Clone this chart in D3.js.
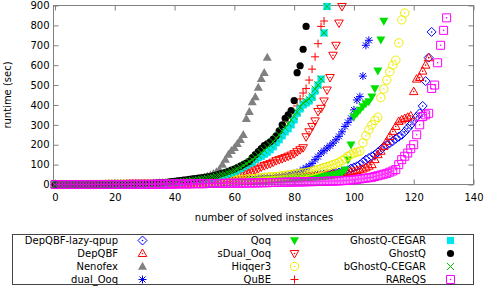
<!DOCTYPE html>
<html>
<head>
<meta charset="utf-8">
<script src="https://cdn.jsdelivr.net/npm/d3@7"></script>
<style>
    body { margin: 0; background: #fff; }
    svg text { font-family: "DejaVu Sans", sans-serif; font-size: 10px; fill: #000; }
</style>
</head>
<body>
<div id="chart"></div>
<script>

// runtime (sec) of each solved instance, sorted ascending (cactus plot)
let depqbfLazy = [0,0,0,0,0,0,0,0,0,0, 0,0,0,0,0,0,0,0,1,1, 1,1,1,1,1,2,2,2,2,2, 2,3,3,3,3,4,4,4,5,5,
    5,6,6,7,7,8,8,9,9,10, 10,11,11,12,12,13,13,14,15,16, 17,18,19,20,21,22,23,24,25,26, 27,28,29,30,31,32,33,34,35,36,
    37,38,39,40,41,42,43,44,46,48, 50,52,54,56,58,60,62,66,72,80, 86,92,100,112,125,133,142,150,162,175,
    190,198,208,218,230,240,250,265,283,300, 320,340,358,395,520,638,767];
let depqbf = [0,0,0,0,0,0,0,0,0,0, 0,0,0,0,0,0,0,1,1,1, 1,1,1,1,2,2,2,2,2,3, 3,3,3,4,4,4,5,5,5,6,
    6,6,7,7,8,8,9,9,10,10, 11,11,12,12,13,13,14,14,15,15, 16,16,17,17,18,18,19,20,21,22, 23,24,25,26,27,28,29,30,31,32,
    33,34,35,36,37,38,39,40,41,42, 44,46,48,50,52,54,56,58,61,64, 67,70,74,78,84,92,100,125,150,167,
    192,217,242,267,292,317,325,332,338,345, 467,530,538,570,600,637];
let nenofex = [0,0,0,0,0,0,0,0,0,0, 0,0,1,1,1,1,1,1,1,2, 2,2,2,2,3,3,3,3,4,4, 4,5,5,6,6,7,7,8,9,10,
    11,12,13,15,17,19,21,24,27,31, 35,40,46,54,62,75,100,125,150,170, 185,205,225,250,330,365,415,440,488,532,
    562,638];
let dualOoq = [0,0,0,0,0,0,0,0,0,0, 0,0,0,0,0,0,1,1,1,1, 1,1,2,2,2,2,2,3,3,3, 3,4,4,4,5,5,5,6,6,7,
    7,8,8,9,9,10,10,11,12,13, 14,15,16,17,18,19,20,21,22,23, 24,25,26,27,28,29,30,31,32,33, 34,35,36,37,38,40,42,45,48,52,
    55,58,65,75,84,92,105,125,140,158, 170,183,195,208,225,242,265,292,312,333, 375,425,442,545,700,725];
let qoq = [0,0,0,0,0,0,0,0,0,0, 0,0,0,0,0,1,1,1,1,1, 1,2,2,2,2,2,3,3,3,3, 4,4,4,5,5,5,6,6,7,7,
    8,8,9,9,10,10,11,11,12,12, 13,13,14,14,15,15,16,16,17,17, 18,18,19,19,20,20,21,21,22,22, 23,23,24,24,25,25,26,27,28,29,
    30,31,32,33,34,35,36,37,38,40, 42,44,46,48,50,55,60,75,125,200, 342,358,375,392,408,417,442,483,572,728,822];
let sdualOoq = [0,0,0,0,0,0,0,0,0,0, 0,0,0,0,1,1,1,1,1,1, 2,2,2,2,2,3,3,3,3,4, 4,4,5,5,5,6,6,7,7,8,
    8,9,9,10,11,12,13,14,15,16, 17,18,20,22,24,26,28,31,34,37, 40,44,48,52,56,62,68,74,80,88, 95,100,105,112,120,125,130,136,142,148,
    155,165,175,185,240,265,292,320,367,383, 420,475,538,650,700,812,895];
let hiqqer3 = [0,0,0,0,0,0,0,0,0,0, 0,0,0,0,0,0,0,1,1,1, 1,1,1,2,2,2,2,2,3,3, 3,3,4,4,4,5,5,5,6,6,
    7,7,8,8,9,9,10,10,11,12, 13,14,15,16,17,18,19,20,21,22, 23,24,25,26,27,28,29,30,32,34, 36,37,38,39,40,42,44,46,48,50,
    52,54,56,58,61,64,67,71,75,80, 85,90,95,100,105,112,120,130,142,150, 158,163,167,210,245,275,300,322,338,437,
    480,525,567,600,625,712,828,862];
let qube = [0,0,0,0,0,0,0,0,0,0, 0,0,0,0,0,1,1,1,1,1, 1,2,2,2,2,2,3,3,3,3, 4,4,4,5,5,6,6,7,7,8,
    9,10,11,12,13,14,15,17,19,21, 23,25,28,31,34,38,42,47,52,58, 65,72,80,92,105,118,130,142,155,168, 182,195,208,222,236,250,270,290,315,340,
    360,395,430,460,483,525,580,642,708,795,822];
let ghostqCegar = [0,0,0,0,0,0,0,0,0,0, 0,0,0,0,0,1,1,1,1,1, 1,2,2,2,2,2,3,3,3,3, 4,4,5,5,6,6,7,8,9,10,
    11,12,13,14,15,17,19,21,23,25, 27,29,32,35,38,42,46,50,55,60, 65,72,80,88,97,105,112,125,135,142, 152,162,175,190,210,225,245,265,280,300,
    325,358,380,400,410,420,438,470,500,530,762,895];
let ghostq = [0,0,0,0,0,0,0,0,0,0, 0,0,0,1,1,1,1,1,1,1, 2,2,2,2,2,3,3,3,3,4, 4,5,5,6,7,8,9,10,12,14,
    16,18,20,22,24,26,28,30,32,34, 36,38,40,43,47,52,56,61,66,72, 78,85,92,100,108,117,135,150,165,180, 195,205,215,228,245,270,300,333,350,372,
    422,562,597,680,795];
let bghostqCegar = [0,0,0,0,0,0,0,0,0,0, 0,0,0,0,1,1,1,1,1,1, 2,2,2,2,2,3,3,3,3,4, 4,4,5,5,6,7,7,8,9,10,
    11,12,13,15,16,18,20,22,24,26, 28,31,34,37,40,44,48,53,58,64, 70,78,86,95,105,115,125,135,148,160, 172,185,200,215,232,250,268,285,305,325,
    342,365,390,410,420,430,445,480,500,530,762,895];
let rareqs = [0,0,0,0,0,0,0,0,0,0, 0,0,0,0,0,0,0,0,0,0, 0,0,0,0,0,1,1,1,1,1, 1,1,1,1,2,2,2,2,2,2,
    2,3,3,3,3,3,4,4,4,4, 4,5,5,5,5,5,6,6,6,6, 6,7,7,7,7,8,8,8,8,9, 9,9,10,10,10,11,11,11,12,12,
    12,13,13,13,14,14,14,15,15,15, 16,16,17,17,18,18,19,20,21,22, 24,26,28,30,32,34,36,40,44,48,
    52,56,62,68,75,100,125,142,158,180, 200,250,300,342,350,358,483,500,612,700,775,838];

let seriesNames = ["DepQBF-lazy-qpup", "DepQBF", "Nenofex", "dual_Ooq", "Qoq", "sDual_Ooq",
    "Hiqqer3", "QuBE", "GhostQ-CEGAR", "GhostQ", "bGhostQ-CEGAR", "RAReQS"];
let seriesValues = [depqbfLazy, depqbf, nenofex, dualOoq, qoq, sdualOoq,
    hiqqer3, qube, ghostqCegar, ghostq, bghostqCegar, rareqs];
let seriesShapes = ["diamondDot", "triUpDot", "triUp", "star", "triDown", "triDownDot",
    "circleDot", "plus", "square", "circle", "cross", "squareDot"];
let seriesColors = ["#0000ff", "#ff0000", "#808080", "#0000ff", "#00e000", "#ff0000",
    "#eeee00", "#ff0000", "#00e5ee", "#000000", "#00c000", "#ff00ff"];

let xTicks = [0, 20, 40, 60, 80, 100, 120, 140];
let yTicks = [0, 100, 200, 300, 400, 500, 600, 700, 800, 900];

// draws one gnuplot style point into every g of the selection
function addShape(g, shape, color){
    let dot = function(){
        g.append('circle').attr('r', 0.8).style('fill', color);
    };
    let outline = function(d){
        return g.append('path').attr('d', d)
            .style('fill', 'none').style('stroke', color).style('stroke-width', 1);
    };
    let solid = function(d){
        return g.append('path').attr('d', d).style('fill', color).style('stroke', 'none');
    };
    switch(shape){
        case 'diamondDot': outline('M0,-4.5L4.5,0L0,4.5L-4.5,0Z'); dot(); break;
        case 'triUpDot': outline('M0,-4.5L4.3,3L-4.3,3Z'); dot(); break;
        case 'triUp': solid('M0,-4.8L4.5,3.2L-4.5,3.2Z'); break;
        case 'star': outline('M-4,0H4M0,-4V4M-3,-3L3,3M-3,3L3,-3'); break;
        case 'triDown': solid('M-4.5,-3.2L4.5,-3.2L0,4.8Z'); break;
        case 'triDownDot': outline('M-4.3,-3L4.3,-3L0,4.5Z'); dot(); break;
        case 'circleDot':
            g.append('circle').attr('r', 4.2)
                .style('fill', 'none').style('stroke', color).style('stroke-width', 1);
            dot(); break;
        case 'plus': outline('M-4,0H4M0,-4V4'); break;
        case 'square': solid('M-3.6,-3.6H3.6V3.6H-3.6Z'); break;
        case 'circle': g.append('circle').attr('r', 3.6).style('fill', color); break;
        case 'cross': outline('M-3.5,-3.5L3.5,3.5M-3.5,3.5L3.5,-3.5'); break;
        case 'squareDot': outline('M-4,-4H4V4H-4Z'); dot(); break;
    }
}

let width = 486;
let height = 286;

let svg = d3.select('#chart').append('svg')
    .attr('width', width)
    .attr('height', height);

let x = d3.scaleLinear().domain([-0.5, 140]).range([53.5, 473.5]);
let y = d3.scaleLinear().domain([0, 900]).range([184.5, 5.5]);

let borderColor = '#808080';

// ticks point inwards on all four sides, labels only bottom and left
let xAxis = d3.axisBottom(x).tickValues(xTicks).tickSize(-5).tickPadding(9);
let yAxis = d3.axisLeft(y).tickValues(yTicks).tickSize(-5).tickPadding(4);
let xTop = d3.axisTop(x).tickValues(xTicks).tickSize(-5).tickFormat('');
let yRight = d3.axisRight(y).tickValues(yTicks).tickSize(-5).tickFormat('');

svg.append('g').attr('transform', 'translate(0,184.5)').call(xAxis);
svg.append('g').attr('transform', 'translate(53.5,0)').call(yAxis);
svg.append('g').attr('transform', 'translate(0,5.5)').call(xTop);
svg.append('g').attr('transform', 'translate(473.5,0)').call(yRight);

svg.selectAll('.domain').remove();
svg.selectAll('.tick line').style('stroke', borderColor);
svg.selectAll('.tick text').style('font-size', '10px').style('font-family', '"DejaVu Sans", sans-serif');

svg.append('rect')
    .attr('x', 53.5).attr('y', 5.5)
    .attr('width', 420).attr('height', 179)
    .style('fill', 'none')
    .style('stroke', borderColor);

// the points, drawn in legend order so later series sit on top
seriesValues.forEach((values, k) => {
    let pts = svg.append('g')
        .attr('class', 'series')
        .selectAll('g')
        .data(values)
        .join('g')
        .attr('transform', (d, i) => 'translate(' + x(i) + ',' + y(d) + ')');
    addShape(pts, seriesShapes[k], seriesColors[k]);
});

// axis titles
svg.append('text')
    .attr('x', 264).attr('y', 220.5)
    .attr('text-anchor', 'middle')
    .text('number of solved instances');

svg.append('text')
    .attr('transform', 'translate(10.5,95) rotate(-90)')
    .attr('text-anchor', 'middle')
    .text('runtime (sec)');

// legend box, 3 columns of 4 rows
svg.append('rect')
    .attr('x', 12.5).attr('y', 234.5)
    .attr('width', 461).attr('height', 50)
    .style('fill', 'none')
    .style('stroke', '#444');

let colText = [118, 271, 426];
let colSym = [142.5, 294.5, 450.5];

seriesNames.forEach((name, k) => {
    let col = Math.floor(k / 4);
    let row = k % 4;
    let cy = 240.5 + row * 13;
    svg.append('text')
        .attr('x', colText[col]).attr('y', cy)
        .attr('dy', '0.35em')
        .attr('text-anchor', 'end')
        .text(name);
    let sym = svg.append('g').attr('transform', 'translate(' + colSym[col] + ',' + cy + ')');
    addShape(sym, seriesShapes[k], seriesColors[k]);
});

</script>
</body>
</html>
